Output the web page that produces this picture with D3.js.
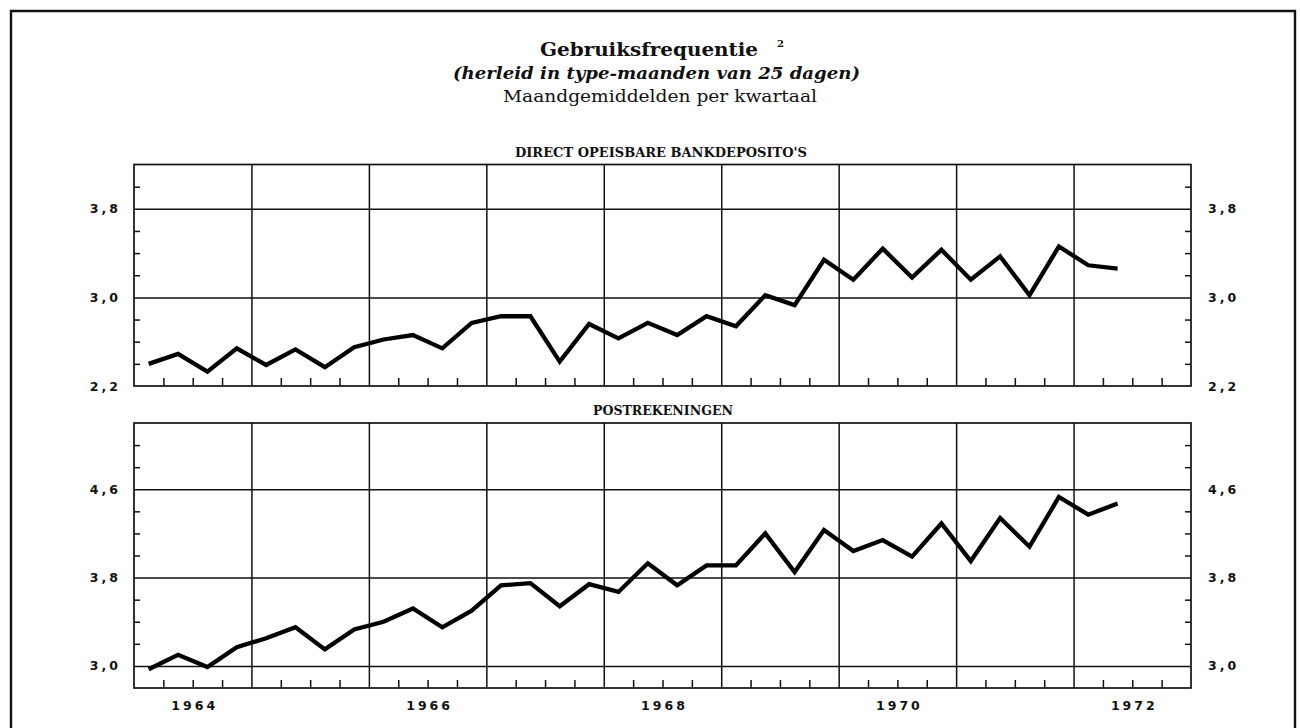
<!DOCTYPE html>
<html>
<head>
<meta charset="utf-8">
<script src="https://cdn.jsdelivr.net/npm/d3@7"></script>
<style>
  html, body { margin: 0; padding: 0; background: #fff; }
  svg { display: block; }
  .lbl { font-family: "DejaVu Sans", sans-serif; font-weight: bold; font-size: 12.5px; letter-spacing: 3px; fill: #111; }
</style>
</head>
<body>
<svg id="chart" width="1300" height="728"></svg>
<script>
// ---- data ----
const startYear = 1964;
const endYear = 1973;
const yearLabels = [1964, 1966, 1968, 1970, 1972];

// Direct opeisbare bankdeposito's — quarterly values Q1 1964 .. Q2 1972
const bankDeposits = [
  2.40, 2.49, 2.33, 2.54, 2.39, 2.53, 2.37, 2.55,
  2.62, 2.66, 2.54, 2.77, 2.83, 2.83, 2.42, 2.76,
  2.63, 2.77, 2.66, 2.83, 2.74, 3.02, 2.93, 3.34,
  3.16, 3.44, 3.18, 3.43, 3.16, 3.37, 3.02, 3.46,
  3.29, 3.26
];
// Postrekeningen
const postAccounts = [
  2.97, 3.10, 2.99, 3.17, 3.25, 3.35, 3.15, 3.33,
  3.40, 3.52, 3.35, 3.50, 3.73, 3.75, 3.54, 3.74,
  3.67, 3.93, 3.73, 3.91, 3.91, 4.20, 3.85, 4.23,
  4.04, 4.14, 3.99, 4.29, 3.95, 4.34, 4.08, 4.53,
  4.37, 4.47
];

const topMajor = [3.0, 3.8];
const topMinor = [2.4, 2.6, 2.8, 3.2, 3.4, 3.6, 4.0];
const botMajor = [3.0, 3.8, 4.6];
const botMinor = [3.2, 3.4, 3.6, 4.0, 4.2, 4.4, 4.8, 5.0];

const title = "Gebruiksfrequentie";
const subtitle = "(herleid in type-maanden van 25 dagen)";
const subtitle2 = "Maandgemiddelden per kwartaal";
const panelTitles = ["DIRECT OPEISBARE BANKDEPOSITO'S", "POSTREKENINGEN"];

// ---- layout ----
const svg = d3.select("#chart");
const L = 134, R = 1191;
const x = d3.scaleLinear().domain([startYear, endYear]).range([L, R]);

const fmt = d => d.toFixed(1).replace(".", ",");
const quarters = d3.range(startYear * 4 + 1, endYear * 4).map(q => q / 4).filter(q => q % 1 !== 0);
const years = d3.range(startYear + 1, endYear);

// outer frame
svg.append("path")
  .attr("d", "M11,728 L11,11 L1295,11 L1295,728")
  .attr("fill", "none").attr("stroke", "#111").attr("stroke-width", 2.4);

// titles
const serif = '"DejaVu Serif", "Liberation Serif", serif';
svg.append("text").attr("x", 540).attr("y", 56)
  .attr("font-family", serif).attr("font-weight", "bold").attr("font-size", 19)
  .attr("textLength", 218).attr("lengthAdjust", "spacingAndGlyphs")
  .attr("fill", "#111").text(title);
svg.append("text").attr("x", 777).attr("y", 47)
  .attr("font-family", serif).attr("font-weight", "bold").attr("font-size", 10)
  .attr("fill", "#111").text("2");
svg.append("text").attr("x", 453).attr("y", 79)
  .attr("font-family", serif).attr("font-weight", "bold").attr("font-style", "italic").attr("font-size", 16)
  .attr("textLength", 407).attr("lengthAdjust", "spacingAndGlyphs")
  .attr("fill", "#111").text(subtitle);
svg.append("text").attr("x", 503).attr("y", 102)
  .attr("font-family", serif).attr("font-size", 16)
  .attr("textLength", 314).attr("lengthAdjust", "spacingAndGlyphs")
  .attr("fill", "#111").text(subtitle2);

function panel(cfg) {
  const y = d3.scaleLinear().domain(cfg.domain).range(cfg.range);
  const T = cfg.range[1], B = cfg.range[0];
  const g = svg.append("g");

  // panel title
  g.append("text").attr("x", cfg.titleX).attr("y", cfg.titleY)
    .attr("font-family", serif).attr("font-weight", "bold").attr("font-size", 12.5)
    .attr("textLength", cfg.titleW).attr("lengthAdjust", "spacingAndGlyphs")
    .attr("fill", "#111").text(cfg.title);

  // horizontal grid
  g.append("g").attr("transform", `translate(${L},0)`)
    .call(d3.axisLeft(y).tickValues(cfg.major).tickSize(-(R - L)).tickFormat(""))
    .call(s => s.select(".domain").remove())
    .call(s => s.selectAll("line").attr("stroke", "#111").attr("stroke-width", 1.5));

  // vertical year grid
  g.append("g").attr("transform", `translate(0,${B})`)
    .call(d3.axisBottom(x).tickValues(years).tickSize(-(B - T)).tickFormat(""))
    .call(s => s.select(".domain").remove())
    .call(s => s.selectAll("line").attr("stroke", "#111").attr("stroke-width", 1.5));

  // quarter ticks on bottom edge
  g.append("g").attr("transform", `translate(0,${B})`)
    .call(d3.axisBottom(x).tickValues(quarters).tickSize(-8).tickFormat(""))
    .call(s => s.select(".domain").remove())
    .call(s => s.selectAll("line").attr("stroke", "#111").attr("stroke-width", 1.5));

  // minor ticks left & right
  g.append("g").attr("transform", `translate(${L},0)`)
    .call(d3.axisLeft(y).tickValues(cfg.minor).tickSize(-6).tickFormat(""))
    .call(s => s.select(".domain").remove())
    .call(s => s.selectAll("line").attr("stroke", "#111").attr("stroke-width", 1.5));
  g.append("g").attr("transform", `translate(${R},0)`)
    .call(d3.axisRight(y).tickValues(cfg.minor).tickSize(-6).tickFormat(""))
    .call(s => s.select(".domain").remove())
    .call(s => s.selectAll("line").attr("stroke", "#111").attr("stroke-width", 1.5));

  // labels left & right
  const labelVals = cfg.labels;
  g.append("g").attr("transform", `translate(${L},0)`)
    .call(d3.axisLeft(y).tickValues(labelVals).tickSize(0).tickPadding(13).tickFormat(fmt))
    .call(s => s.select(".domain").remove())
    .call(s => s.selectAll("text").attr("class", "lbl").attr("font-size", null).attr("font-family", null));
  g.append("g").attr("transform", `translate(${R},0)`)
    .call(d3.axisRight(y).tickValues(labelVals).tickSize(0).tickPadding(17).tickFormat(fmt))
    .call(s => s.select(".domain").remove())
    .call(s => s.selectAll("text").attr("class", "lbl").attr("font-size", null).attr("font-family", null));

  // frame
  g.append("rect").attr("x", L).attr("y", T).attr("width", R - L).attr("height", B - T)
    .attr("fill", "none").attr("stroke", "#111").attr("stroke-width", 1.7);

  // data line
  const line = d3.line()
    .x((d, i) => x(startYear + (i + 0.5) / 4))
    .y(d => y(d));
  g.append("path").datum(cfg.data)
    .attr("d", line)
    .attr("fill", "none").attr("stroke", "#000").attr("stroke-width", 4.3)
    .attr("stroke-linejoin", "miter").attr("stroke-miterlimit", 3);

  return { y, B };
}

panel({
  domain: [2.2, 4.2], range: [386, 164.5],
  major: topMajor, minor: topMinor, labels: [2.2, 3.0, 3.8],
  data: bankDeposits, title: panelTitles[0], titleX: 515, titleY: 157, titleW: 292
});
const bot = panel({
  domain: [2.8, 5.2], range: [688, 423],
  major: botMajor, minor: botMinor, labels: [3.0, 3.8, 4.6],
  data: postAccounts, title: panelTitles[1], titleX: 593, titleY: 415, titleW: 140
});

// year labels
svg.append("g").attr("transform", `translate(0,${bot.B})`)
  .call(d3.axisBottom(x).tickValues(yearLabels.map(v => v + 0.5)).tickSize(0).tickPadding(13)
    .tickFormat(d => String(Math.floor(d))))
  .call(s => s.select(".domain").remove())
  .call(s => s.selectAll("text").attr("class", "lbl").attr("font-size", null).attr("font-family", null)
    .attr("dx", "1.5px"));
</script>
</body>
</html>
